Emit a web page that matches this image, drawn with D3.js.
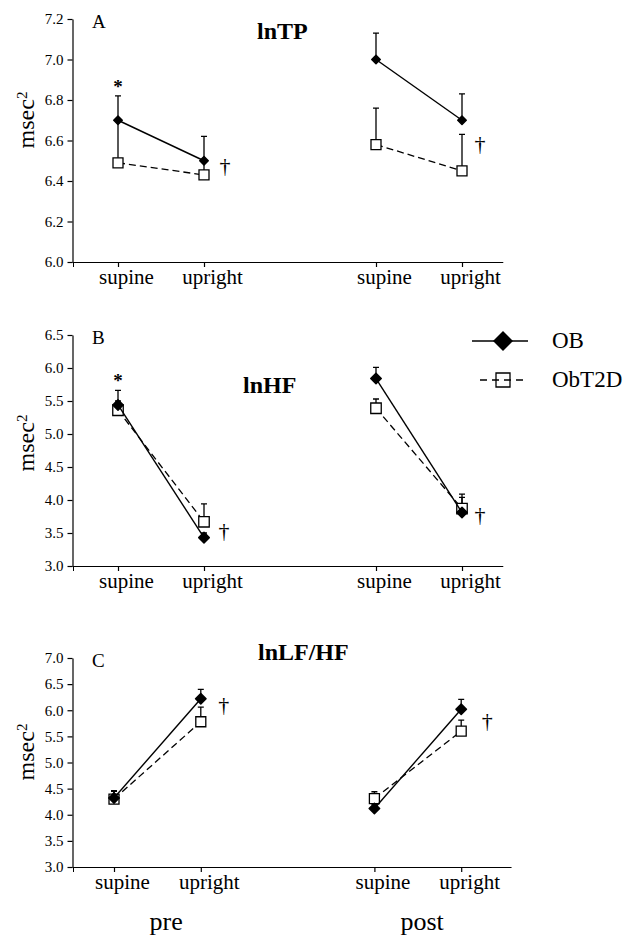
<!DOCTYPE html>
<html>
<head>
<meta charset="utf-8">
<style>
  body { margin: 0; background: #fff; }
  svg text { font-family: "Liberation Serif", "Times New Roman", serif !important; fill: #000; }
</style>
</head>
<body>
<div id="chart"></div>
<script src="https://d3js.org/d3.v7.min.js"></script>
<script>

// categories: positions on the x axis (gap between pre and post)
var conditions = ["supine", "upright", "supine", "upright"];
var conditionPos = [0, 1, 3, 4];
var phases = ["pre", "post"];
var groups = ["OB", "ObT2D"];

// panel A: lnTP
var tpTicks = [6.0, 6.2, 6.4, 6.6, 6.8, 7.0, 7.2];
var tpOB = [6.70, 6.50, 7.00, 6.70];
var tpOBerr = [6.82, 6.62, 7.13, 6.83];
var tpT2D = [6.49, 6.43, 6.58, 6.45];
var tpT2Derr = [6.70, 6.50, 6.76, 6.63];

// panel B: lnHF
var hfTicks = [3.0, 3.5, 4.0, 4.5, 5.0, 5.5, 6.0, 6.5];
var hfOB = [5.44, 3.43, 5.84, 3.81];
var hfOBerr = [5.66, 3.50, 6.01, 4.04];
var hfT2D = [5.36, 3.67, 5.39, 3.87];
var hfT2Derr = [5.50, 3.94, 5.53, 4.09];

// panel C: lnLF/HF
var lfhfTicks = [3.0, 3.5, 4.0, 4.5, 5.0, 5.5, 6.0, 6.5, 7.0];
var lfhfOB = [4.32, 6.22, 4.12, 6.02];
var lfhfOBerr = [4.46, 6.40, 4.20, 6.21];
var lfhfT2D = [4.30, 5.78, 4.31, 5.60];
var lfhfT2Derr = [4.45, 6.06, 4.44, 5.81];

// significance marks: [condition index, value]
var tpStars = [[0, 6.88]];
var tpDaggers = [[1, 6.47], [3, 6.58]];
var hfStars = [[0, 5.85]];
var hfDaggers = [[1, 3.52], [3, 3.77]];
var lfhfStars = [];
var lfhfDaggers = [[1, 6.09], [3, 5.78]];

var panels = [
  {letter: "A", title: "lnTP", ticks: tpTicks, ob: tpOB, obErr: tpOBerr, t2d: tpT2D, t2dErr: tpT2Derr,
   stars: tpStars, daggers: tpDaggers, top: 19, bottom: 262, x0: 118, dx: 86, xEnd: 4.48, dagDx: [21, 18],
   titleX: 257, titleY: 39, labelY: 120, obSize: 36, sqSize: 100},
  {letter: "B", title: "lnHF", ticks: hfTicks, ob: hfOB, obErr: hfOBerr, t2d: hfT2D, t2dErr: hfT2Derr,
   stars: hfStars, daggers: hfDaggers, top: 335, bottom: 566, x0: 118, dx: 86, xEnd: 4.48, dagDx: [20, 18],
   titleX: 243, titleY: 393, labelY: 443, obSize: 55, sqSize: 110},
  {letter: "C", title: "lnLF/HF", ticks: lfhfTicks, ob: lfhfOB, obErr: lfhfOBerr, t2d: lfhfT2D, t2dErr: lfhfT2Derr,
   stars: lfhfStars, daggers: lfhfDaggers, top: 658, bottom: 867, x0: 114, dx: 86.8, xEnd: 4.58, dagDx: [23, 26],
   titleX: 258, titleY: 660, labelY: 752, obSize: 55, sqSize: 100}
];

var width = 634, height = 938;
var serif = "'Liberation Serif', 'Times New Roman', serif";
var svg = d3.select("#chart").append("svg")
    .attr("width", width)
    .attr("height", height)
    .attr("font-family", serif);

var diamond = function (s) { return d3.symbol(d3.symbolSquare, s)(); };

panels.forEach(function (p) {
  var y = d3.scaleLinear()
      .domain([p.ticks[0], p.ticks[p.ticks.length - 1]])
      .range([p.bottom, p.top]);
  var x = d3.scaleLinear()
      .domain([0, 1])
      .range([p.x0, p.x0 + p.dx]);
  var xLeft = 72.5, xRight = x(p.xEnd);

  var g = svg.append("g");

  // y axis
  var yAx = g.append("g")
      .attr("transform", "translate(" + xLeft + ",0)")
      .call(d3.axisLeft(y).tickValues(p.ticks).tickFormat(d3.format(".1f"))
        .tickSize(5).tickSizeOuter(0).tickPadding(4));
  yAx.attr("font-family", serif);
  yAx.selectAll("text").style("font-size", "15px").style("font-family", serif);

  // x axis
  var xAx = g.append("g")
      .attr("transform", "translate(0," + p.bottom + ")")
      .call(d3.axisBottom(x).tickValues(conditionPos)
        .tickFormat(function (d, i) { return conditions[i]; })
        .tickSize(5).tickSizeOuter(0).tickPadding(2));
  xAx.attr("font-family", serif);
  xAx.select(".domain").attr("d", "M" + xLeft + ",0.5H" + xRight);
  xAx.selectAll("text").attr("dx", 8).style("font-size", "21px").style("font-family", serif);
  xAx.append("line").attr("x1", xLeft + 1).attr("x2", xLeft + 1)
      .attr("y1", 0).attr("y2", 5).attr("stroke", "#000");
  g.selectAll(".domain, .tick line").attr("stroke", "#000").attr("stroke-width", 1.2);

  // y label
  var lab = g.append("text")
      .attr("transform", "translate(34," + p.labelY + ") rotate(-90)")
      .attr("text-anchor", "middle")
      .style("font-size", "24px");
  lab.append("tspan").text("msec");
  lab.append("tspan").attr("dy", "-0.45em").style("font-size", "15px").text("2");

  // panel letter and title
  g.append("text").attr("x", 92).attr("y", p.top + 9)
      .style("font-size", "19px").text(p.letter);
  g.append("text").attr("x", p.titleX).attr("y", p.titleY)
      .style("font-size", "24px").style("font-weight", "bold").text(p.title);

  // two segments per series (pre, post)
  var segs = [[0, 1], [2, 3]];

  function errorBars(vals, hi) {
    g.selectAll(null).data(conditionPos).enter().append("path")
      .attr("d", function (d, i) {
        var cx = x(d), y0 = y(vals[i]), y1 = y(hi[i]);
        return "M" + cx + "," + y0 + "V" + y1 + "M" + (cx - 3) + "," + y1 + "H" + (cx + 3);
      })
      .attr("fill", "none").attr("stroke", "#000").attr("stroke-width", 1.3);
  }

  errorBars(p.t2d, p.t2dErr);
  errorBars(p.ob, p.obErr);

  var line = d3.line()
      .x(function (i) { return x(conditionPos[i]); });

  // ObT2D dashed lines
  segs.forEach(function (s) {
    g.append("path")
      .attr("d", line.y(function (i) { return y(p.t2d[i]); })(s))
      .attr("fill", "none").attr("stroke", "#000").attr("stroke-width", 1.3)
      .attr("stroke-dasharray", "7,4");
  });
  // ObT2D squares
  g.selectAll(null).data(conditionPos).enter().append("path")
    .attr("d", d3.symbol(d3.symbolSquare, p.sqSize)())
    .attr("transform", function (d, i) { return "translate(" + x(d) + "," + y(p.t2d[i]) + ")"; })
    .attr("fill", "#fff").attr("stroke", "#000").attr("stroke-width", 1.3);

  // OB solid lines
  segs.forEach(function (s) {
    g.append("path")
      .attr("d", line.y(function (i) { return y(p.ob[i]); })(s))
      .attr("fill", "none").attr("stroke", "#000").attr("stroke-width", 1.4);
  });
  // OB diamonds
  g.selectAll(null).data(conditionPos).enter().append("path")
    .attr("d", diamond(p.obSize))
    .attr("transform", function (d, i) { return "translate(" + x(d) + "," + y(p.ob[i]) + ") rotate(45)"; })
    .attr("fill", "#000").attr("stroke", "#000").attr("stroke-width", 1.5)
    .attr("stroke-linejoin", "round");

  // significance marks
  g.selectAll(null).data(p.stars).enter().append("text")
    .attr("x", function (d) { return x(conditionPos[d[0]]); })
    .attr("y", function (d) { return y(d[1]); })
    .attr("dy", "0.5em")
    .attr("text-anchor", "middle")
    .style("font-size", "19px").style("font-weight", "bold")
    .text("*");
  g.selectAll(null).data(p.daggers).enter().append("text")
    .attr("x", function (d, i) { return x(conditionPos[d[0]]) + p.dagDx[i]; })
    .attr("y", function (d) { return y(d[1]); })
    .attr("dy", "0.3em")
    .attr("text-anchor", "middle")
    .style("font-size", "22px")
    .text("\u2020");
});

// phase labels under the bottom panel
var xPhase = d3.scaleLinear().domain([0, 1]).range([114, 200.8]);
svg.selectAll(null).data(phases).enter().append("text")
  .attr("x", function (d, i) { return xPhase(i === 0 ? 0.6 : 3.55); })
  .attr("y", 930)
  .attr("text-anchor", "middle")
  .style("font-size", "26px")
  .text(function (d) { return d; });

// legend
var leg = svg.append("g").attr("transform", "translate(503,0)");
leg.append("line").attr("x1", -31).attr("x2", 25).attr("y1", 341).attr("y2", 341)
  .attr("stroke", "#000").attr("stroke-width", 1.4);
leg.append("path").attr("d", diamond(200))
  .attr("transform", "translate(0,341) rotate(45)").attr("fill", "#000");
leg.append("line").attr("x1", -23).attr("x2", 25).attr("y1", 380).attr("y2", 380)
  .attr("stroke", "#000").attr("stroke-width", 1.3).attr("stroke-dasharray", "7,5");
leg.append("path").attr("d", d3.symbol(d3.symbolSquare, 196)())
  .attr("transform", "translate(0,380)")
  .attr("fill", "none").attr("stroke", "#000").attr("stroke-width", 1.3);
leg.selectAll(null).data(groups).enter().append("text")
  .attr("x", 49)
  .attr("y", function (d, i) { return 348 + i * 39; })
  .style("font-size", "23px")
  .text(function (d) { return d; });

</script>
</body>
</html>
